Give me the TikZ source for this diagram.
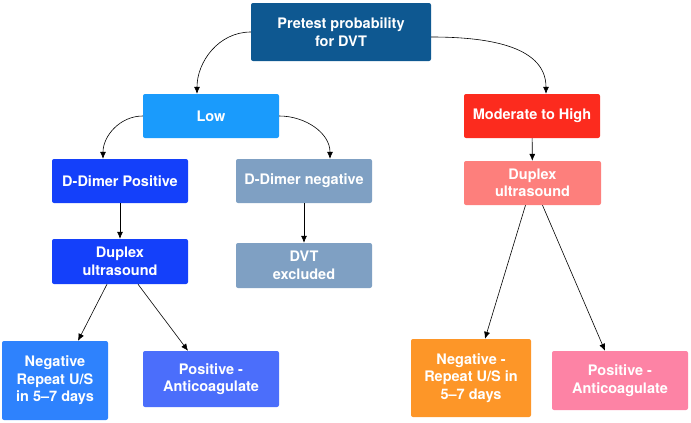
\documentclass[tikz,border=0pt]{standalone}
\usepackage{fontspec}
\setmainfont{TeX Gyre Heros}
\usetikzlibrary{arrows.meta}

\definecolor{navy}{HTML}{0E5891}
\definecolor{sky}{HTML}{1A9BFC}
\definecolor{redbox}{HTML}{FC2B1E}
\definecolor{deepblue}{HTML}{1440FA}
\definecolor{slate}{HTML}{7FA0C3}
\definecolor{salmon}{HTML}{FD7F7C}
\definecolor{midblue}{HTML}{2E82FD}
\definecolor{violetblue}{HTML}{4B6EFB}
\definecolor{orangebox}{HTML}{FD9628}
\definecolor{pinkbox}{HTML}{FD83A5}

\begin{document}
\begin{tikzpicture}[x=1pt,y=-1pt,
    box/.style={rounded corners=2pt,text=white,align=center,inner sep=0pt,
      font=\fontsize{14.5}{17.5}\selectfont\bfseries},
    link/.style={-{Latex[length=7pt,width=6pt]},black,line width=.6pt}]
    \useasboundingbox(0,0)rectangle(691,423);
    % boxes: fill, width, height given by corners
    \node[box,fill=navy,minimum width=180pt,minimum height=58pt](pre)at(341,32){Pretest probability\\for DVT};
    \node[box,fill=sky,minimum width=136pt,minimum height=44pt](low)at(211,116){Low};
    \node[box,fill=redbox,minimum width=136pt,minimum height=44pt](high)at(532,116){Moderate to High};
    \node[box,fill=deepblue,minimum width=136pt,minimum height=44pt](ddpos)at(120,181){D-Dimer Positive};
    \node[box,fill=slate,minimum width=136pt,minimum height=44pt](ddneg)at(304,181){D-Dimer negative};
    \node[box,fill=deepblue,minimum width=136pt,minimum height=45pt](dupL)at(120,261.5){Duplex\\ultrasound};
    \node[box,fill=slate,minimum width=136pt,minimum height=45pt](excl)at(304,265.5){DVT\\excluded};
    \node[box,fill=salmon,minimum width=137pt,minimum height=44pt](dupR)at(532.5,183){Duplex\\ultrasound};
    \node[box,fill=midblue,minimum width=106pt,minimum height=79pt](negL)at(55,380.5){Negative\\Repeat U/S\\in 5--7 days};
    \node[box,fill=violetblue,minimum width=136pt,minimum height=56pt](posL)at(211,379){Positive -\\Anticoagulate};
    \node[box,fill=orangebox,minimum width=120pt,minimum height=78pt](negR)at(471,378){Negative -\\Repeat U/S in\\5--7 days};
    \node[box,fill=pinkbox,minimum width=136pt,minimum height=59pt](posR)at(620,380.5){Positive -\\Anticoagulate};
    % curved links
    \draw[link](pre.west)to[out=180,in=90]([xshift=-14pt]low.north);
    \draw[link]([yshift=-5pt]pre.east)to[out=0,in=90]([xshift=14pt]high.north);
    \draw[link](low.west)to[out=180,in=90]([xshift=-17pt]ddpos.north);
    \draw[link](low.east)to[out=0,in=90]([xshift=26pt]ddneg.north);
    % straight links
    \draw[link](ddpos)--(dupL);
    \draw[link](ddneg.south)--(excl.north);
    \draw[link](high)--(dupR);
    \draw[link]([xshift=-13pt]dupL.south)--([xshift=23pt]negL.north);
    \draw[link]([xshift=18pt]dupL.south)--([xshift=-23pt]posL.north);
    \draw[link]([xshift=-7pt]dupR.south)--([xshift=14pt]negR.north);
    \draw[link]([xshift=10pt]dupR.south)--([xshift=-15pt]posR.north);
  \end{tikzpicture}
\end{document}
